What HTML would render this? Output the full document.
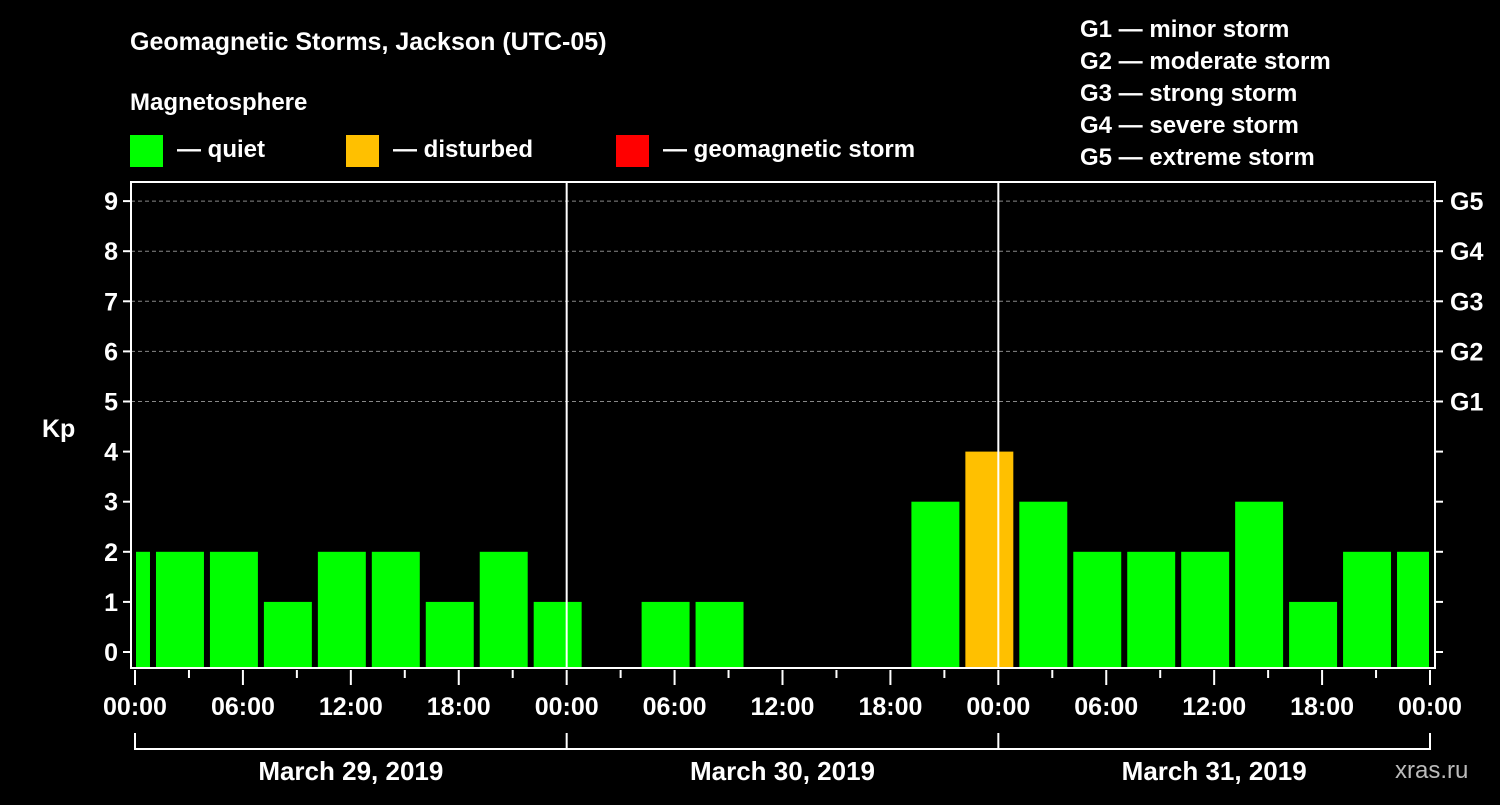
<!DOCTYPE html>
<html><head><meta charset="utf-8"><style>
body{margin:0;background:#000;width:1500px;height:800px;overflow:hidden}
svg text{font-family:"Liberation Sans",Arial,sans-serif;font-weight:bold;fill:#fff}
</style></head><body>
<svg id="c" width="1500" height="800" viewBox="0 0 1500 800">
<text x="130" y="50" font-size="25">Geomagnetic Storms, Jackson (UTC-05)</text>
<text x="130" y="110" font-size="24">Magnetosphere</text>
<g><rect x="130" y="135" width="33" height="32" fill="#00ff00"/><text x="177" y="157" font-size="24">— quiet</text></g>
<g><rect x="346" y="135" width="33" height="32" fill="#ffc000"/><text x="393" y="157" font-size="24">— disturbed</text></g>
<g><rect x="616" y="135" width="33" height="32" fill="#ff0000"/><text x="663" y="157" font-size="24">— geomagnetic storm</text></g>
<g font-size="24">
<text x="1080" y="37">G1 — minor storm</text><text x="1080" y="69">G2 — moderate storm</text><text x="1080" y="101">G3 — strong storm</text><text x="1080" y="133">G4 — severe storm</text><text x="1080" y="165">G5 — extreme storm</text></g>
<text x="42" y="437" font-size="25">Kp</text>
<text x="1395" y="778" font-size="24" fill="#bbb" style="fill:#bbb;font-weight:normal">xras.ru</text>
<g id="plot"></g>
</svg>
<script>
const kpValues=[2,2,2,1,2,2,1,2,1,null,1,1,null,null,null,3,4,3,2,2,2,3,1,2,2];
const blockStartHours=[-2,1,4,7,10,13,16,19,22,25,28,31,34,37,40,43,46,49,52,55,58,61,64,67,70];
const yTicks=[0,1,2,3,4,5,6,7,8,9];
const gLabels=["G1","G2","G3","G4","G5"];
const gLevels=[5,6,7,8,9];
const xTickLabels=["00:00","06:00","12:00","18:00","00:00","06:00","12:00","18:00","00:00","06:00","12:00","18:00","00:00"];
const dayLabels=["March 29, 2019","March 30, 2019","March 31, 2019"];
const NS="http://www.w3.org/2000/svg",p=document.getElementById('plot');
const X0=135,X1=1430,PT=182,PB=668,L=131,R=1435;
const xs=h=>X0+h*(X1-X0)/72, ys=v=>652-v*50.1;
function mk(t,a,par){const e=document.createElementNS(NS,t);for(const k in a)e.setAttribute(k,a[k]);(par||p).appendChild(e);return e;}
// grid
gLevels.forEach((v,i)=>{const l=mk('line',{x1:L,x2:R,y1:ys(v),y2:ys(v),stroke:'#888','stroke-dasharray':'4,3','stroke-width':1});


const t=mk('text',{x:1450,y:ys(v)+9,'font-size':25});t.textContent=gLabels[i];

});
// bars
kpValues.forEach((v,i)=>{if(v===null)return;let a=xs(blockStartHours[i])+3,b=xs(blockStartHours[i]+3)-3;a=Math.max(a,X0+1);b=Math.min(b,X1-1);
const r=mk('rect',{x:a,y:ys(v),width:b-a,height:PB-ys(v),fill:v>=5?'#ff0000':v>=4?'#ffc000':'#00ff00'});

});
// day separators
[24,48].forEach(h=>{const l=mk('line',{x1:xs(h),x2:xs(h),y1:PT,y2:PB,stroke:'#fff','stroke-width':2});

});
// frame
const f=mk('rect',{x:L,y:PT,width:R-L,height:PB-PT,fill:'none',stroke:'#fff','stroke-width':2});


// y ticks
yTicks.forEach(v=>{mk('line',{x1:L-8,x2:L,y1:ys(v),y2:ys(v),stroke:'#fff','stroke-width':2});mk('line',{x1:R,x2:R+8,y1:ys(v),y2:ys(v),stroke:'#fff','stroke-width':2});
const t=mk('text',{x:L-13,y:ys(v)+9,'font-size':25,'text-anchor':'end'});t.textContent=v;

});
// x ticks
for(let h=0;h<=72;h+=3){mk('line',{x1:xs(h),x2:xs(h),y1:PB+2,y2:h%6?PB+10:PB+17,stroke:'#fff','stroke-width':2});}
xTickLabels.forEach((s,i)=>{const t=mk('text',{x:xs(i*6),y:715,'font-size':25,'text-anchor':'middle'});t.textContent=s;

});
// day brackets
mk('line',{x1:X0,x2:X1,y1:749,y2:749,stroke:'#fff','stroke-width':2});
[0,24,48,72].forEach(h=>mk('line',{x1:xs(h),x2:xs(h),y1:733,y2:750,stroke:'#fff','stroke-width':2}));
dayLabels.forEach((s,i)=>{const t=mk('text',{x:xs(i*24+12),y:780,'font-size':26,'text-anchor':'middle'});t.textContent=s;

});
</script>
</body></html>
